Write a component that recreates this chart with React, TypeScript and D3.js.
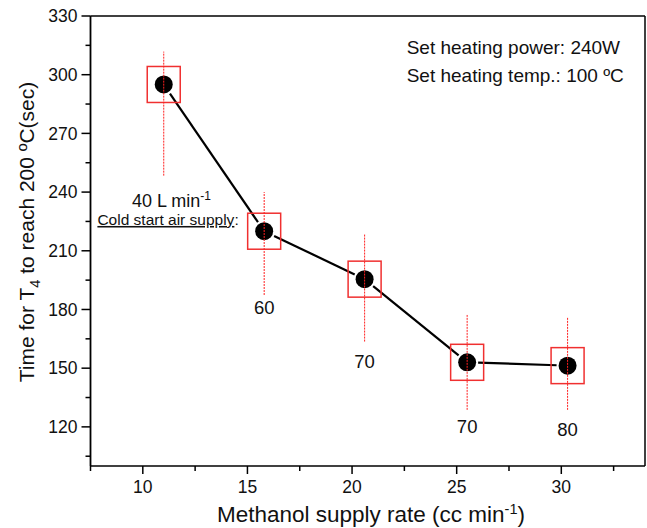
import React from "react";
import * as d3 from "d3";

const methanolRate = [11, 15.8, 20.6, 25.5, 30.3];
const timeToReach = [295, 220, 195.5, 153, 151.3];
const errLow = [248.4, 187.4, 163.6, 128.7, 128.7];
const errHigh = [311.8, 240, 218.6, 177.2, 176];
const airSupplyLabels = ["", "60", "70", "70", "80"];
const airLabelY = [0, 181, 153.4, 120.1, 118.8];
const xMajorTicks = [10, 15, 20, 25, 30];
const xMinorTicks = [7.5, 12.5, 17.5, 22.5, 27.5, 32.5];
const yMajorTicks = [120, 150, 180, 210, 240, 270, 300, 330];
const yMinorTicks = [105, 135, 165, 195, 225, 255, 285, 315];

const W = 647;
const H = 528;
const left = 90.5;
const right = 645;
const top = 16;
const bottom = 466;

const FONT = "Liberation Sans, Arial, Helvetica, sans-serif";

export default function App() {
  const x = d3.scaleLinear().domain([7.5, 34]).range([left, right]);
  const y = d3.scaleLinear().domain([100, 330]).range([bottom, top]);
  const r = 9;
  const pts = methanolRate.map((v, i) => ({ px: x(v), py: y(timeToReach[i]) }));
  const segs = pts.slice(1).map((p, i) => {
    const a = pts[i];
    const dx = p.px - a.px;
    const dy = p.py - a.py;
    const len = Math.hypot(dx, dy);
    const g = r + 2;
    return [
      [a.px + (dx / len) * g, a.py + (dy / len) * g],
      [p.px - (dx / len) * g, p.py - (dy / len) * g],
    ] as [number, number][];
  });
  const lineGen = d3.line();

  return (
    <svg
      width={W}
      height={H}
      style={{ position: "fixed", left: 0, top: 0, background: "#fff" }}
      fontFamily={FONT}
    >
      <rect x={0} y={0} width={W} height={H} fill="#fff" />
      {/* frame */}
      <line x1={left} x2={right} y1={top} y2={top} stroke="#000" strokeWidth={1.5} />
      <line x1={right} x2={right} y1={top} y2={bottom} stroke="#000" strokeWidth={1.5} />
      <line x1={left} x2={right} y1={bottom} y2={bottom} stroke="#000" strokeWidth={1.5} />
      <line x1={left} x2={left} y1={top} y2={bottom} stroke="#000" strokeWidth={1.8} />

      {/* y ticks */}
      {yMajorTicks.map((t) => (
        <g key={"ym" + t}>
          <line x1={left - 9} x2={left} y1={y(t)} y2={y(t)} stroke="#000" strokeWidth={1.5} />
          <text x={left - 13} y={y(t)} dy="0.36em" textAnchor="end" fontSize={17.5} fill="#111">
            {t}
          </text>
        </g>
      ))}
      {yMinorTicks.map((t) => (
        <line key={"yn" + t} x1={left - 5} x2={left} y1={y(t)} y2={y(t)} stroke="#000" strokeWidth={1.5} />
      ))}

      {/* x ticks */}
      {xMajorTicks.map((t) => (
        <g key={"xm" + t}>
          <line x1={x(t)} x2={x(t)} y1={bottom} y2={bottom + 8} stroke="#000" strokeWidth={1.5} />
          <text x={x(t)} y={bottom + 27} textAnchor="middle" fontSize={17.5} fill="#111">
            {t}
          </text>
        </g>
      ))}
      {xMinorTicks.map((t) => (
        <line key={"xn" + t} x1={x(t)} x2={x(t)} y1={bottom} y2={bottom + 5} stroke="#000" strokeWidth={1.5} />
      ))}

      {/* axis titles */}
      <text x={371} y={522} textAnchor="middle" fontSize={22.5} fill="#111">
        Methanol supply rate (cc min
        <tspan dy={-8} fontSize={14.5}>-1</tspan>
        <tspan dy={8}>)</tspan>
      </text>
      <text
        transform={`translate(34, 232) rotate(-90)`}
        textAnchor="middle"
        fontSize={21}
        fill="#111"
      >
        Time for T
        <tspan dy={6} fontSize={14.5}>4</tspan>
        <tspan dy={-6}> to reach 200 ºC(sec)</tspan>
      </text>

      {/* connecting line */}
      {segs.map((s, i) => (
        <path key={"s" + i} d={lineGen(s) || ""} stroke="#000" strokeWidth={2.2} fill="none" />
      ))}

      {/* markers */}
      {pts.map((p, i) => (
        <g key={"p" + i}>
          <rect x={p.px - 16.5} y={p.py - 18} width={33} height={36} fill="none" stroke="#f03030" strokeWidth={1.5} />
          <circle cx={p.px} cy={p.py} r={r} fill="#000" />
          <line
            x1={p.px}
            x2={p.px}
            y1={y(errLow[i])}
            y2={y(errHigh[i])}
            stroke="#ff2020"
            strokeWidth={1}
            strokeDasharray="2 1"
          />
        </g>
      ))}

      {/* air supply labels */}
      {airSupplyLabels.map((l, i) =>
        l ? (
          <text key={"l" + i} x={x(methanolRate[i])} y={y(airLabelY[i])} dy="0.36em" textAnchor="middle" fontSize={18.5} fill="#111">
            {l}
          </text>
        ) : null
      )}

      <text x={x(9.48)} y={y(232.4)} fontSize={18} fill="#111">
        40 L min
        <tspan dy={-7} fontSize={12}>-1</tspan>
      </text>
      <text x={x(7.83)} y={y(223.2)} fontSize={15.5} fill="#111">
        <tspan textDecoration="underline">Cold start air supply</tspan>
        <tspan>:</tspan>
      </text>

      {/* settings annotation */}
      <text x={406.7} y={54} fontSize={19} fill="#111">
        Set heating power: 240W
      </text>
      <text x={406.7} y={81.5} fontSize={19} fill="#111">
        Set heating temp.: 100 ºC
      </text>
    </svg>
  );
}
